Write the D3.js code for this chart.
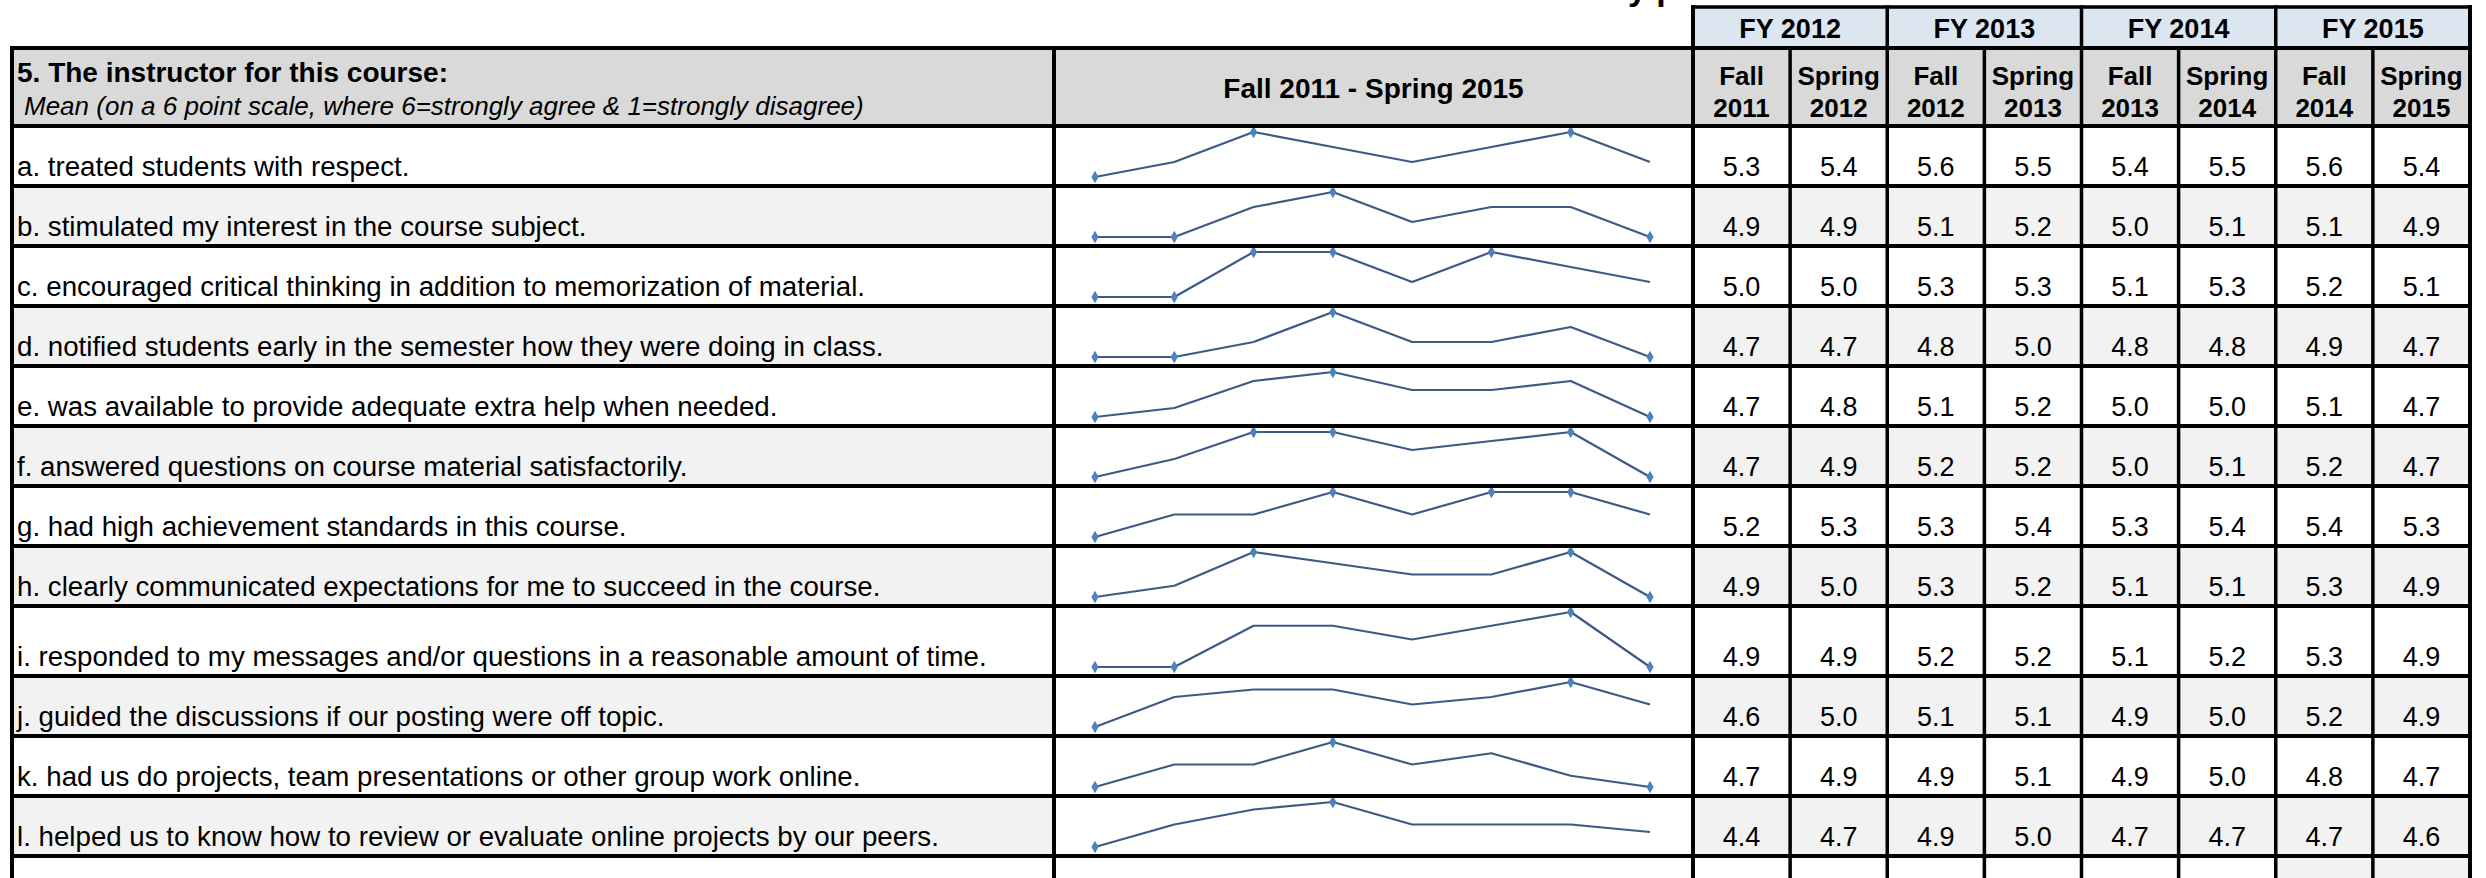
<!DOCTYPE html>
<html lang="en">
<head>
    <meta charset="UTF-8">
    <script type="text/javascript" src="https://cdn.jsdelivr.net/npm/d3@7/dist/d3.min.js"></script>
    <title>Instructor ratings</title>
    <style>
        body { margin: 0; background: #fff; }
        text { font-family: "Liberation Sans", Arial, Helvetica, sans-serif; fill: #000; }
    </style>
</head>
<body>

</body>
<script>

    let pageTitle = "Course Evaluation Survey profile";   // sits above the crop, only descenders show
    let fiscalYears = ["FY 2012", "FY 2013", "FY 2014", "FY 2015"];
    let semesters = ["Fall 2011", "Spring 2012", "Fall 2012", "Spring 2013",
        "Fall 2013", "Spring 2014", "Fall 2014", "Spring 2015"];
    let questionTitle = "5. The instructor for this course:";
    let scaleNote = "Mean (on a 6 point scale, where 6=strongly agree & 1=strongly disagree)";
    let trendTitle = "Fall 2011 - Spring 2015";
    let items = [
        "a. treated students with respect.",
        "b. stimulated my interest in the course subject.",
        "c. encouraged critical thinking in addition to memorization of material.",
        "d. notified students early in the semester how they were doing in class.",
        "e. was available to provide adequate extra help when needed.",
        "f. answered questions on course material satisfactorily.",
        "g. had high achievement standards in this course.",
        "h. clearly communicated expectations for me to succeed in the course.",
        "i. responded to my messages and/or questions in a reasonable amount of time.",
        "j. guided the discussions if our posting were off topic.",
        "k. had us do projects, team presentations or other group work online.",
        "l. helped us to know how to review or evaluate online projects by our peers."
    ];
    let means = [
        [5.3, 5.4, 5.6, 5.5, 5.4, 5.5, 5.6, 5.4],
        [4.9, 4.9, 5.1, 5.2, 5.0, 5.1, 5.1, 4.9],
        [5.0, 5.0, 5.3, 5.3, 5.1, 5.3, 5.2, 5.1],
        [4.7, 4.7, 4.8, 5.0, 4.8, 4.8, 4.9, 4.7],
        [4.7, 4.8, 5.1, 5.2, 5.0, 5.0, 5.1, 4.7],
        [4.7, 4.9, 5.2, 5.2, 5.0, 5.1, 5.2, 4.7],
        [5.2, 5.3, 5.3, 5.4, 5.3, 5.4, 5.4, 5.3],
        [4.9, 5.0, 5.3, 5.2, 5.1, 5.1, 5.3, 4.9],
        [4.9, 4.9, 5.2, 5.2, 5.1, 5.2, 5.3, 4.9],
        [4.6, 5.0, 5.1, 5.1, 4.9, 5.0, 5.2, 4.9],
        [4.7, 4.9, 4.9, 5.1, 4.9, 5.0, 4.8, 4.7],
        [4.4, 4.7, 4.9, 5.0, 4.7, 4.7, 4.7, 4.6]
    ];

    // --- layout ---
    let width = 2486,
        height = 878,
        xLeft = 12,
        xLabelEnd = 1054,
        xSparkEnd = 1693,
        xRight = 2470,
        yFy = 7,
        yHead = 48,
        yBody = 126,
        rowH = 60,
        tallRowH = 70;   // row i is taller in the sheet

    let headGrey = "#d9d9d9",
        fyBlue = "#dce6f1",
        stripe = "#f2f2f2",
        lineBlue = "#3b5a86",
        markBlue = "#4f81bd";

    let rowHeights = items.map((d, i) => i === 8 ? tallRowH : rowH);
    let rowTops = [];
    rowHeights.reduce((acc, h) => { rowTops.push(acc); return acc + h; }, yBody);
    let yEnd = rowTops[rowTops.length - 1] + rowHeights[rowHeights.length - 1];

    let x = d3.scaleBand()
        .domain(semesters)
        .range([xSparkEnd, xRight]);

    let xFy = d3.scaleBand()
        .domain(fiscalYears)
        .range([xSparkEnd, xRight]);

    let xSpark = d3.scalePoint()
        .domain(d3.range(semesters.length))
        .range([xLabelEnd + 41, xSparkEnd - 43]);

    let svg = d3.select("body")
        .append("svg")
        .attr("width", width)
        .attr("height", height);

    svg.append("rect")
        .attr("width", width)
        .attr("height", height)
        .attr("fill", "#fff");

    render();

    function render() {
        // title runs above the top edge; line its "y" up with the visible fragment
        let title = svg.append("text")
            .attr("x", 0)
            .attr("y", 0)
            .attr("font-size", 34)
            .attr("font-weight", "bold")
            .text(pageTitle);
        let yAt = title.node().getStartPositionOfChar(pageTitle.indexOf("y")).x;
        title.attr("x", 1628 - yAt);

        // backgrounds
        let bg = svg.append("g");

        bg.selectAll("rect.fy")
            .data(fiscalYears)
            .enter()
            .append("rect")
            .attr("class", "fy")
            .attr("x", d => xFy(d))
            .attr("y", yFy)
            .attr("width", xFy.bandwidth())
            .attr("height", yHead - yFy)
            .attr("fill", fyBlue);

        bg.append("rect")
            .attr("x", xLeft)
            .attr("y", yHead)
            .attr("width", xRight - xLeft)
            .attr("height", yBody - yHead)
            .attr("fill", headGrey);

        let striped = items.map((d, i) => i).filter(i => i % 2 === 1);

        bg.selectAll("rect.stripeLabel")
            .data(striped)
            .enter()
            .append("rect")
            .attr("class", "stripeLabel")
            .attr("x", xLeft)
            .attr("y", i => rowTops[i])
            .attr("width", xLabelEnd - xLeft)
            .attr("height", i => rowHeights[i])
            .attr("fill", stripe);

        bg.selectAll("rect.stripeVal")
            .data(striped)
            .enter()
            .append("rect")
            .attr("class", "stripeVal")
            .attr("x", xSparkEnd)
            .attr("y", i => rowTops[i])
            .attr("width", xRight - xSparkEnd)
            .attr("height", i => rowHeights[i])
            .attr("fill", stripe);

        // partly visible next row: last two cells are shaded
        bg.selectAll("rect.tail")
            .data(semesters.slice(-2))
            .enter()
            .append("rect")
            .attr("class", "tail")
            .attr("x", d => x(d))
            .attr("y", yEnd)
            .attr("width", x.bandwidth())
            .attr("height", height - yEnd)
            .attr("fill", stripe);

        // header text
        let head = svg.append("g");

        head.selectAll("text.fy")
            .data(fiscalYears)
            .enter()
            .append("text")
            .attr("class", "fy")
            .attr("x", d => xFy(d) + xFy.bandwidth() / 2)
            .attr("y", 38)
            .attr("text-anchor", "middle")
            .attr("font-size", 27)
            .attr("font-weight", "bold")
            .text(d => d);

        head.append("text")
            .attr("x", xLeft + 5)
            .attr("y", 82)
            .attr("font-size", 28)
            .attr("font-weight", "bold")
            .text(questionTitle);

        head.append("text")
            .attr("x", xLeft + 12)
            .attr("y", 115)
            .attr("font-size", 26)
            .attr("font-style", "italic")
            .text(scaleNote);

        head.append("text")
            .attr("x", (xLabelEnd + xSparkEnd) / 2)
            .attr("y", 98)
            .attr("text-anchor", "middle")
            .attr("font-size", 28)
            .attr("font-weight", "bold")
            .text(trendTitle);

        let semHead = head.selectAll("text.sem")
            .data(semesters)
            .enter()
            .append("text")
            .attr("class", "sem")
            .attr("text-anchor", "middle")
            .attr("font-size", 26)
            .attr("font-weight", "bold");

        semHead.append("tspan")
            .attr("x", d => x(d) + x.bandwidth() / 2)
            .attr("y", 85)
            .text(d => d.split(" ")[0]);

        semHead.append("tspan")
            .attr("x", d => x(d) + x.bandwidth() / 2)
            .attr("y", 117)
            .text(d => d.split(" ")[1]);

        // rows
        let rows = svg.selectAll("g.row")
            .data(items)
            .enter()
            .append("g")
            .attr("class", "row");

        rows.append("text")
            .attr("x", xLeft + 5)
            .attr("y", (d, i) => rowTops[i] + rowHeights[i] - 10)
            .attr("font-size", 27.7)
            .text(d => d);

        rows.each(function (d, i) {
            let g = d3.select(this);
            let vals = means[i];
            let top = rowTops[i],
                bottom = top + rowHeights[i];

            g.selectAll("text.val")
                .data(vals)
                .enter()
                .append("text")
                .attr("class", "val")
                .attr("x", (v, j) => x(semesters[j]) + x.bandwidth() / 2)
                .attr("y", bottom - 10)
                .attr("text-anchor", "middle")
                .attr("font-size", 27)
                .text(v => v.toFixed(1));

            // sparkline, scaled to this row's own min / max
            let lo = d3.min(vals), hi = d3.max(vals);
            let y = d3.scaleLinear()
                .domain([lo, hi])
                .range([bottom - 9, top + 6]);

            let line = d3.line()
                .x((v, j) => xSpark(j))
                .y(v => y(v));

            g.append("path")
                .attr("d", line(vals))
                .attr("fill", "none")
                .attr("stroke", lineBlue)
                .attr("stroke-width", 2.2)
                .attr("stroke-linejoin", "round");

            let marks = vals.map((v, j) => ({v: v, j: j}))
                .filter(p => p.v === lo || p.v === hi);

            g.selectAll("path.mark")
                .data(marks)
                .enter()
                .append("path")
                .attr("class", "mark")
                .attr("d", d3.symbol().type(d3.symbolDiamond).size(45))
                .attr("transform", p => "translate(" + xSpark(p.j) + "," + y(p.v) + ")")
                .attr("fill", markBlue);
        });

        // grid lines
        let grid = svg.append("g")
            .attr("stroke", "#000")
            .attr("stroke-linecap", "square");

        let hLines = [yHead].concat(rowTops).concat([yEnd]);

        grid.selectAll("line.h")
            .data(hLines)
            .enter()
            .append("line")
            .attr("class", "h")
            .attr("x1", xLeft)
            .attr("x2", xRight)
            .attr("y1", d => d)
            .attr("y2", d => d)
            .attr("stroke-width", 4);

        grid.append("line")
            .attr("x1", xSparkEnd)
            .attr("x2", xRight)
            .attr("y1", yFy)
            .attr("y2", yFy)
            .attr("stroke-width", 3.5);

        // verticals: outer frame and section edges
        grid.selectAll("line.vmain")
            .data([
                {x: xLeft, y1: yHead},
                {x: xLabelEnd, y1: yHead},
                {x: xSparkEnd, y1: yFy},
                {x: xRight, y1: yFy}
            ])
            .enter()
            .append("line")
            .attr("class", "vmain")
            .attr("x1", d => d.x)
            .attr("x2", d => d.x)
            .attr("y1", d => d.y1)
            .attr("y2", height)
            .attr("stroke-width", 4);

        // semester separators; year boundaries reach into the FY row
        grid.selectAll("line.vsem")
            .data(semesters.slice(1))
            .enter()
            .append("line")
            .attr("class", "vsem")
            .attr("x1", d => x(d))
            .attr("x2", d => x(d))
            .attr("y1", (d, i) => (i % 2 === 1) ? yFy : yHead)
            .attr("y2", height)
            .attr("stroke-width", 3.5);
    }

</script>
</html>
